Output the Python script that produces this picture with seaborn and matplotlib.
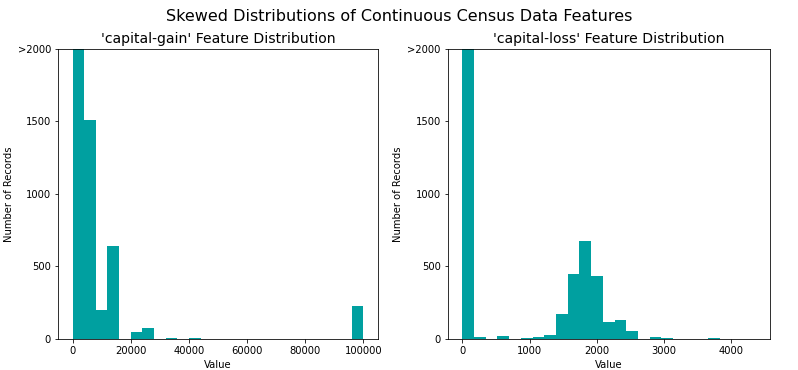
import numpy as np
import pandas as pd
import matplotlib
matplotlib.use("Agg")
import matplotlib.pyplot as plt
import seaborn as sns

# value range of each feature (25 equal bins from 0 to max)
gain_max = 99999
loss_max = 4356

# records per bin (first bins go far above 2000)
gain_counts = [41432, 1510, 200, 641, 0, 51, 78, 0, 9, 0, 9, 0, 0, 0, 0,
               0, 0, 0, 0, 0, 0, 0, 0, 0, 228]
loss_counts = [43082, 14, 0, 21, 0, 7, 14, 28, 172, 448, 676, 434, 117, 131,
               55, 0, 14, 7, 0, 0, 0, 7, 0, 0, 0]

ytick_vals = [0, 500, 1000, 1500, 2000]
ytick_labels = ["0", "500", "1000", "1500", ">2000"]

features = [("capital-gain", gain_max, gain_counts),
            ("capital-loss", loss_max, loss_counts)]

fig = plt.figure(figsize=(798 / 72, 370 / 72), dpi=72)
boxes = [[0.0727, 0.0838, 0.401, 0.784], [0.561, 0.0838, 0.4035, 0.784]]

for box, (name, vmax, counts) in zip(boxes, features):
    ax = fig.add_axes(box)
    edges = np.linspace(0, vmax, len(counts) + 1)
    df = pd.DataFrame({"value": (edges[:-1] + edges[1:]) / 2,
                       "count": counts})
    sns.histplot(data=df, x="value", weights="count", bins=list(edges),
                 color="#00A0A0", alpha=1, linewidth=0, ax=ax)
    ax.set_title("'%s' Feature Distribution" % name, fontsize=14)
    ax.set_xlabel("Value")
    ax.set_ylabel("Number of Records")
    ax.set_ylim((0, 2000))
    ax.set_yticks(ytick_vals)
    ax.set_yticklabels(ytick_labels)

fig.suptitle("Skewed Distributions of Continuous Census Data Features",
             fontsize=16, y=0.975)
fig.savefig("out.png", dpi=72)
